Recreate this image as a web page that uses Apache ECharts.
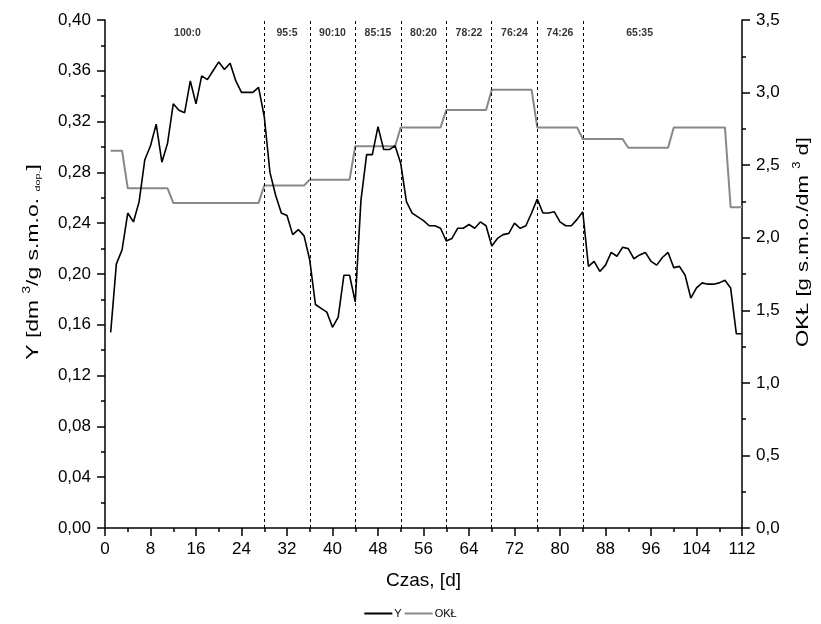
<!DOCTYPE html>
<html>
<head>
<meta charset="utf-8">
<script src="https://cdn.jsdelivr.net/npm/echarts@6/dist/echarts.min.js"></script>
<style>
  html, body { margin: 0; padding: 0; background: #fff; }
  #chart { width: 821px; height: 624px; }
</style>
</head>
<body>
<div id="chart"></div>
<script>
// wydajnosc Y (os lewa), dzien 1..112
var yValues = [
  0.154, 0.208, 0.219, 0.248, 0.241, 0.257, 0.290, 0.301, 0.318, 0.288,
  0.303, 0.334, 0.329, 0.327, 0.352, 0.334, 0.356, 0.353, 0.360, 0.367,
  0.361, 0.366, 0.352, 0.343, 0.343, 0.343, 0.347, 0.324, 0.280, 0.262,
  0.248, 0.246, 0.231, 0.235, 0.230, 0.211, 0.176, 0.173, 0.170, 0.158,
  0.166, 0.199, 0.199, 0.178, 0.258, 0.294, 0.294, 0.316, 0.298, 0.298,
  0.301, 0.287, 0.257, 0.248, 0.245, 0.242, 0.238, 0.238, 0.236, 0.226,
  0.228, 0.236, 0.236, 0.239, 0.236, 0.241, 0.238, 0.222, 0.228, 0.231,
  0.232, 0.240, 0.236, 0.238, 0.248, 0.259, 0.248, 0.248, 0.249, 0.241,
  0.238, 0.238, 0.243, 0.249, 0.206, 0.210, 0.202, 0.207, 0.217, 0.214,
  0.221, 0.220, 0.212, 0.215, 0.217, 0.210, 0.207, 0.213, 0.217, 0.205,
  0.206, 0.199, 0.181, 0.189, 0.193, 0.192, 0.192, 0.193, 0.195, 0.189,
  0.153, 0.153
];
// obciazenie OKŁ (os prawa)
var oklValues = [
  2.60, 2.60, 2.60,
  2.34, 2.34, 2.34, 2.34, 2.34, 2.34, 2.34, 2.34,
  2.24, 2.24, 2.24, 2.24, 2.24, 2.24, 2.24, 2.24, 2.24, 2.24, 2.24, 2.24, 2.24, 2.24, 2.24, 2.24,
  2.36, 2.36, 2.36, 2.36, 2.36, 2.36, 2.36, 2.36,
  2.40, 2.40, 2.40, 2.40, 2.40, 2.40, 2.40, 2.40,
  2.63, 2.63, 2.63, 2.63, 2.63, 2.63, 2.63, 2.63,
  2.76, 2.76, 2.76, 2.76, 2.76, 2.76, 2.76, 2.76,
  2.88, 2.88, 2.88, 2.88, 2.88, 2.88, 2.88, 2.88,
  3.02, 3.02, 3.02, 3.02, 3.02, 3.02, 3.02, 3.02,
  2.76, 2.76, 2.76, 2.76, 2.76, 2.76, 2.76, 2.76,
  2.68, 2.68, 2.68, 2.68, 2.68, 2.68, 2.68, 2.68,
  2.62, 2.62, 2.62, 2.62, 2.62, 2.62, 2.62, 2.62,
  2.76, 2.76, 2.76, 2.76, 2.76, 2.76, 2.76, 2.76, 2.76, 2.76,
  2.21, 2.21, 2.21
];
// granice etapow (linie przerywane) i opisy proporcji
var phaseBounds = [28, 36, 44, 52, 60, 68, 76, 84];
var phaseNames = ['100:0', '95:5', '90:10', '85:15', '80:20', '78:22', '76:24', '74:26', '65:35'];
var phaseLabelDays = [14.5, 32, 40, 48, 56, 64, 72, 80, 94];
var phaseLabelLevel = 0.39;

var FONT = 'Arial, "Liberation Sans", sans-serif';

function pairs(vals) {
  var out = [];
  for (var i = 0; i < vals.length; i++) out.push([i + 1, vals[i]]);
  return out;
}
function comma(v, d) { return v.toFixed(d).replace('.', ','); }

var chart = echarts.init(document.getElementById('chart'));

var axisCommon = {
  axisLine: { show: true, lineStyle: { color: '#000', width: 1.5 } },
  axisTick: { show: true, inside: false, length: 8, lineStyle: { color: '#000', width: 1.5 } },
  minorTick: { show: true, splitNumber: 2, length: 4, lineStyle: { color: '#000', width: 1.5 } },
  splitLine: { show: false }
};

// nazwy osi pionowych - tekst obrocony, lekko rozciagniety jak w oryginale
var nameRich = {
  n: { fontFamily: FONT, fontSize: 17, fill: '#000' },
  sup: { fontFamily: FONT, fontSize: 10, fill: '#000', padding: [0, 0, 11, 0] },
  sub: { fontFamily: FONT, fontSize: 8, fill: '#000', padding: [9, 0, 0, 0] }
};

var option = {
  animation: false,
  backgroundColor: '#fff',
  grid: { left: 105, right: 79, top: 20, bottom: 96, outerBoundsMode: 'none' },
  xAxis: Object.assign({}, axisCommon, {
    type: 'value', min: 0, max: 112, interval: 8,
    name: 'Czas, [d]', nameLocation: 'middle', nameGap: 43,
    nameTextStyle: { color: '#000', fontFamily: FONT, fontSize: 19 },
    axisLabel: { color: '#000', fontFamily: FONT, fontSize: 17, margin: 13 }
  }),
  yAxis: [
    Object.assign({}, axisCommon, {
      type: 'value', min: 0, max: 0.4, interval: 0.04, position: 'left',
      axisLabel: { color: '#000', fontFamily: FONT, fontSize: 17, margin: 14,
        formatter: function (v) { return comma(v, 2); } }
    }),
    Object.assign({}, axisCommon, {
      type: 'value', min: 0, max: 3.5, interval: 0.5, position: 'right',
      axisLabel: { color: '#000', fontFamily: FONT, fontSize: 17, margin: 14,
        formatter: function (v) { return comma(v, 1); } }
    })
  ],
  graphic: [
    {
      type: 'text', x: 33, y: 262, rotation: Math.PI / 2, scaleX: 1.35, scaleY: 1,
      style: {
        text: '{n|Y [dm }{sup|3}{n|/g s.m.o. }{sub|dop.}{n|]}',
        rich: nameRich, align: 'center', verticalAlign: 'middle'
      }
    },
    {
      type: 'text', x: 803, y: 242, rotation: Math.PI / 2, scaleX: 1.3, scaleY: 1,
      style: {
        text: '{n|OKŁ [g s.m.o./dm }{sup|3}{n| d]}',
        rich: nameRich, align: 'center', verticalAlign: 'middle'
      }
    }
  ],
  legend: {
    bottom: 0, left: 'center', itemWidth: 28, itemHeight: 2, itemGap: 3,
    textStyle: { fontFamily: FONT, fontSize: 11, color: '#000', padding: [0, 0, 0, -3] },
    data: [{ name: 'Y', icon: 'rect' }, { name: 'OKŁ', icon: 'rect' }]
  },
  series: [
    {
      name: 'Y', type: 'line', yAxisIndex: 0, symbol: 'none',
      data: pairs(yValues),
      itemStyle: { color: '#000' },
      lineStyle: { color: '#000', width: 1.6 },
      markLine: {
        silent: true, symbol: 'none', label: { show: false },
        lineStyle: { color: '#000', type: [3, 3], width: 1 },
        data: phaseBounds.map(function (d) { return { xAxis: d }; })
      },
      z: 3
    },
    {
      name: 'OKŁ', type: 'line', yAxisIndex: 1, symbol: 'none',
      data: pairs(oklValues),
      itemStyle: { color: '#888' },
      lineStyle: { color: '#888', width: 2 },
      z: 2
    },
    {
      name: 'phases', type: 'scatter', yAxisIndex: 0, symbolSize: 0,
      silent: true,
      data: phaseLabelDays.map(function (d, i) { return { value: [d, phaseLabelLevel], name: phaseNames[i] }; }),
      label: {
        show: true, position: 'inside', formatter: '{b}',
        fontFamily: FONT, fontSize: 10.5, fontWeight: 'bold', color: '#000'
      }
    }
  ]
};

chart.setOption(option);
</script>
</body>
</html>
